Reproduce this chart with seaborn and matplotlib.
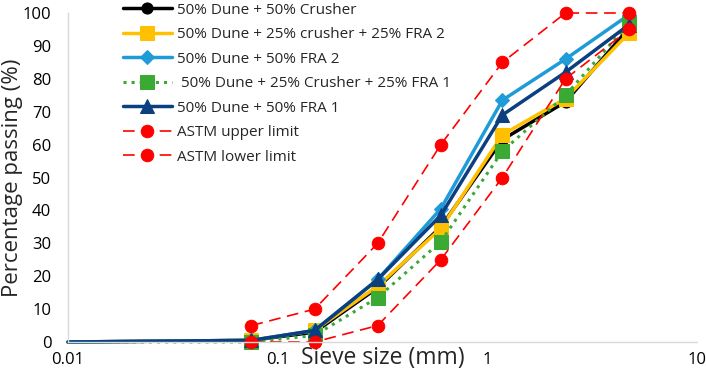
import seaborn as sns
import pandas as pd
import matplotlib.pyplot as plt

# sieve sizes (mm); the mixes also start at 0.01 with 0 %
sieve = [0.075, 0.15, 0.3, 0.6, 1.18, 2.36, 4.75]
sieve_mix = [0.01] + sieve

dune_crusher = [0, 0.5, 3, 16.5, 35, 61.5, 73, 95.5]
dune_crusher_fra2 = [0, 0.5, 3.5, 17, 34.5, 63, 74, 94]
dune_fra2 = [0, 0.5, 3.5, 19, 40.5, 73.5, 86, 99.5]
dune_crusher_fra1 = [0, 0, 2, 13.5, 30.5, 58, 75, 97]
dune_fra1 = [0, 0.5, 3.5, 19, 38.5, 69, 82, 96.5]
astm_upper = [5, 10, 30, 60, 85, 100, 100]
astm_lower = [0, 0, 5, 25, 50, 80, 95]

labels = ["50% Dune + 50% Crusher",
          "50% Dune + 25% crusher + 25% FRA 2",
          "50% Dune + 50% FRA 2",
          " 50% Dune + 25% Crusher + 25% FRA 1",
          "50% Dune + 50% FRA 1",
          "ASTM upper limit",
          "ASTM lower limit"]

sns.set_style("white")
plt.rcParams['font.family'] = ['Open Sans', 'DejaVu Sans']

fig = plt.figure(figsize=(7.06, 3.76), dpi=100)
ax = fig.add_axes([68 / 706, 1 - 342 / 376, (697 - 68) / 706, (342 - 13) / 376])

marks = list(range(1, 8))

sns.lineplot(x=sieve_mix, y=dune_crusher, ax=ax, color="black", lw=2.5, mec="black",
             marker="o", ms=8, markevery=marks, label=labels[0], clip_on=False)
sns.lineplot(x=sieve_mix, y=dune_crusher_fra2, ax=ax, color="#FFC000", lw=2.5, mec="#FFC000",
             marker="s", ms=10, markevery=marks, label=labels[1], clip_on=False)
sns.lineplot(x=sieve_mix, y=dune_fra2, ax=ax, color="#1F9BD7", lw=2.5, mec="#1F9BD7",
             marker="D", ms=7, markevery=marks, label=labels[2], clip_on=False)
sns.lineplot(x=sieve_mix, y=dune_crusher_fra1, ax=ax, color="#3AAA35", lw=2.2, mec="#3AAA35",
             ls=":", marker="s", ms=10, markevery=marks, label=labels[3], clip_on=False)
sns.lineplot(x=sieve_mix, y=dune_fra1, ax=ax, color="#0B3F7F", lw=2.5, mec="#0B3F7F",
             marker="^", ms=10, markevery=marks, label=labels[4], clip_on=False)
sns.lineplot(x=sieve, y=astm_upper, ax=ax, color="#FF0000", lw=1.2, mec="#FF0000",
             ls=(0, (7, 4)), marker="o", ms=9, label=labels[5], clip_on=False)
sns.lineplot(x=sieve, y=astm_lower, ax=ax, color="#FF0000", lw=1.2, mec="#FF0000",
             ls=(0, (7, 4)), marker="o", ms=9, label=labels[6], clip_on=False)

ax.set_xscale("log")
ax.set_xlim(0.01, 10)
ax.set_ylim(0, 100)
ax.set_yticks(range(0, 101, 10))
ax.set_xticks([0.01, 0.1, 1, 10])
ax.set_xticklabels(["0.01", "0.1", "1", "10"])
ax.minorticks_off()
ax.tick_params(axis="both", labelsize=12, length=0, colors="black")
ax.tick_params(axis="x", pad=7)
ax.tick_params(axis="y", pad=12)

ax.set_xlabel("Sieve size (mm)", fontsize=16.5)
ax.xaxis.set_label_coords(0.5, -0.05)
ax.xaxis.label.set_verticalalignment("center")
ax.set_ylabel("Percentage passing (%)", fontsize=16)
ax.yaxis.set_label_coords(-0.088, 0.5)
ax.yaxis.label.set_verticalalignment("center")

for s in ["top", "right"]:
    ax.spines[s].set_visible(False)
for s in ["left", "bottom"]:
    ax.spines[s].set_color("#D9D9D9")
    ax.spines[s].set_linewidth(1)

ax.legend(loc="upper left", bbox_to_anchor=(120 / 706, 1.0), bbox_transform=fig.transFigure,
          frameon=False, fontsize=11, handlelength=3.2, labelspacing=0.62,
          handletextpad=0.35, borderaxespad=0, borderpad=0.18)

fig.savefig("out.png", dpi=100)
